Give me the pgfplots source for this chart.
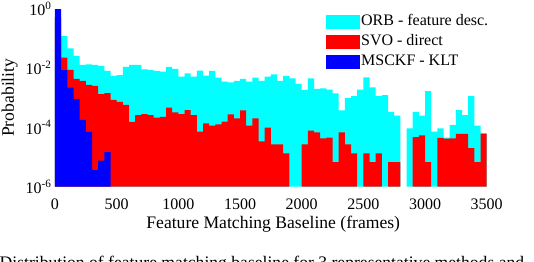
\documentclass[border=0pt]{standalone}
\usepackage{pgfplots}
\pgfplotsset{compat=1.18}
\usepackage{fontspec}
\setmainfont{Liberation Serif}
\definecolor{mcyan}{RGB}{0,255,255}
\definecolor{mred}{RGB}{255,0,0}
\definecolor{mblue}{RGB}{0,0,255}
\begin{document}
\begin{tikzpicture}
\begin{axis}[
  scale only axis,
  width=431.7bp, height=178bp,
  ymode=log, log origin y=infty,
  xmin=0, xmax=3500, ymin=1e-6, ymax=1,
  xtick={0,500,...,3500},
  ytick={1e-6,1e-4,1e-2,1},
  yticklabels={10\textsuperscript{-6},10\textsuperscript{-4},10\textsuperscript{-2},10\textsuperscript{0}},
  /pgf/number format/1000 sep={},
  xticklabel style={font=\fontsize{16bp}{19bp}\selectfont,/pgf/number format/assume math mode=true,yshift=-4bp},
  yticklabel style={font=\fontsize{16bp}{19bp}\selectfont},
  axis line style={draw=none},
  tick style={draw=none},
  xlabel={Feature Matching Baseline (frames)},
  ylabel={Probability},
  xlabel style={font=\fontsize{17.6bp}{21bp}\selectfont, at={(axis description cs:0.5055,-0.2348)}, anchor=base},
  ylabel style={font=\fontsize{17.6bp}{21bp}\selectfont, at={(axis description cs:-0.095,0.5)}, anchor=base},
  ybar, bar width=50, bar shift=0pt,
  legend style={at={(axis description cs:0.6272,0.9685)}, anchor=north west, draw=none, fill=none,
    font=\fontsize{16bp}{19bp}\selectfont, inner sep=0pt, row sep=6bp,
    nodes={inner ysep=0pt, inner xsep=1.2bp, text height=11bp, text depth=3bp}},
  legend cell align=left,
  legend image code/.code={\path[#1,draw=none] (0bp,-7bp) rectangle (34bp,7bp);},
]
\addplot[fill=mcyan, draw=none] coordinates {
(25,0.5) (75,0.120) (125,0.0462) (175,0.0255) (225,0.01266) (275,0.01316) (325,0.0127) (375,0.01172) (425,0.00795) (475,0.0054) (525,0.00582) (575,0.01084) (625,0.0127) (675,0.0127) (725,0.00907) (775,0.00859) (825,0.00795) (875,0.00753) (925,0.01084) (975,0.00928) (1025,0.0051) (1075,0.00665) (1125,0.0051) (1175,0.00813) (1225,0.00552) (1275,0.00795) (1325,0.00472) (1375,0.00347) (1425,0.00331) (1475,0.00366) (1525,0.00427) (1575,0.00347) (1625,0.00472) (1675,0.00366) (1725,0.0051) (1775,0.00615) (1825,0.00366) (1875,0.0054) (1925,0.00451) (1975,0.0029) (2025,0.00182) (2075,0.00451) (2125,0.00197) (2175,0.00208) (2225,0.00189) (2275,0.00139) (2325,3.71e-4) (2375,9.78e-4) (2425,1.14e-3) (2475,0.00189) (2525,0.0048) (2575,0.00221) (2625,1.14e-3) (2675,1.23e-3) (2725,3.30e-4) (2775,2.51e-4) (2875,9.31e-5) (2925,3.30e-4) (2975,2.51e-4) (3025,1.68e-3) (3075,7.15e-5) (3125,9.31e-5) (3175,4.49e-5) (3225,1.20e-4) (3275,3.85e-4) (3325,2.61e-4) (3375,1.14e-3) (3425,1.14e-4) (3475,6.31e-5)
};
\addlegendentry{ORB - feature desc.}
\addplot[fill=mred, draw=none] coordinates {
(25,0.5) (75,0.0223) (125,0.00859) (175,0.00427) (225,0.00366) (275,0.00268) (325,0.00248) (375,0.00133) (425,0.00144) (475,8.37e-4) (525,7.17e-4) (575,5.68e-4) (625,1.52e-4) (675,2.61e-4) (725,2.82e-4) (775,2.61e-4) (825,2.12e-4) (875,2.24e-4) (925,4.61e-4) (975,3.22e-4) (1025,2.82e-4) (1075,3.85e-4) (1125,2.61e-4) (1175,7.15e-5) (1225,1.37e-4) (1275,1.14e-4) (1325,1.27e-4) (1375,1.55e-4) (1425,2.76e-4) (1475,2.02e-4) (1525,3.77e-4) (1575,1.14e-4) (1625,2.02e-4) (1675,3.35e-5) (1725,9.75e-5) (1775,2.68e-5) (1825,2.68e-5) (1875,1.34e-5) (2025,2.68e-5) (2075,7.73e-5) (2125,6.82e-5) (2175,4.28e-5) (2225,4.49e-5) (2275,6.7e-6) (2325,6.82e-5) (2375,2.68e-5) (2425,1.34e-5) (2525,1.34e-5) (2575,6.7e-6) (2625,1.34e-5) (2725,6.7e-6) (2775,6.7e-6) (2925,4.69e-5) (2975,5.36e-5) (3025,6.7e-6) (3125,4.39e-5) (3175,4.2e-5) (3225,4.28e-5) (3275,6.0e-5) (3325,6.0e-5) (3375,2.0e-5) (3425,6.7e-6) (3475,6.2e-5)
};
\addlegendentry{SVO - direct}
\addplot[fill=mblue, draw=none] coordinates {
(25,0.97) (75,8.5e-3) (125,2.2e-3) (175,9.1e-4) (225,1.8e-4) (275,7.1e-5) (325,3.6e-6) (375,7.6e-6) (425,1.45e-5)
};
\addlegendentry{MSCKF - KLT}
\end{axis}
\begin{scope}
\clip (-55bp,-75.3bp) rectangle (479bp,186.7bp);
\node[anchor=base west, inner sep=0pt, font=\fontsize{17.6bp}{21bp}\selectfont] at (-55.5bp,-81.5bp) {Distribution of feature matching baseline for 3 representative methods and};
\end{scope}
\pgfresetboundingbox
\useasboundingbox (-55bp,-75.3bp) rectangle (479bp,186.7bp);
\end{tikzpicture}
\end{document}
